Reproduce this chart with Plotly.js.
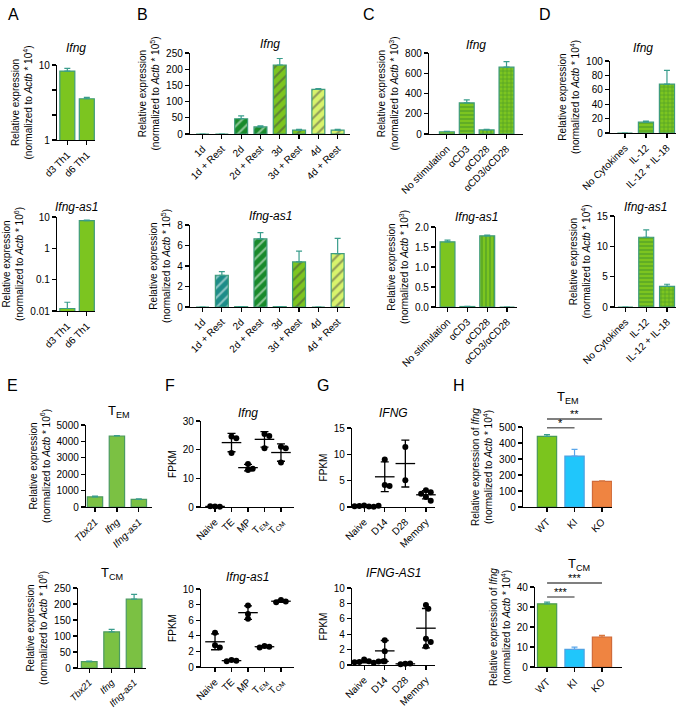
<!DOCTYPE html>
<html><head><meta charset="utf-8">
<script src="https://cdn.plot.ly/plotly-3.0.1.min.js"></script>
<style>html,body{margin:0;padding:0;background:#fff}#chart{width:688px;height:709px}</style>
</head><body><div id="chart"></div>
<script>
// ---------------- DATA ----------------
const aCats = ['d3 Th1', 'd6 Th1'];
const aIfng = [8.3, 3.55];
const aIfngErr = [0.7, 0.15];
const aAs1 = [0.012, 7.7];
const aAs1Err = [0.007, 0.2];

const bCats = ['1d', '1d + Rest', '2d', '2d + Rest', '3d', '3d + Rest', '4d', '4d + Rest'];
const bIfng = [0, 0, 47, 22, 213, 12, 138, 12];
const bIfngErr = [0, 0, 9, 3, 20, 2, 2, 2];
const bAs1 = [0, 3.1, 0.03, 6.65, 0.03, 4.4, 0, 5.2];
const bAs1Err = [0, 0.35, 0, 0.6, 0, 1.05, 0, 1.5];

const cCats = ['No stimulation', '\u03b1CD3', '\u03b1CD28', '\u03b1CD3/\u03b1CD28'];
const cIfng = [22, 308, 40, 660];
const cIfngErr = [5, 30, 6, 55];
const cAs1 = [1.63, 0.012, 1.78, 0];
const cAs1Err = [0.04, 0.005, 0.015, 0];

const dCats = ['No Cytokines', 'IL-12', 'IL-12 + IL-18'];
const dIfng = [0, 15, 68];
const dIfngErr = [0, 1.5, 19];
const dAs1 = [0, 11.5, 3.4];
const dAs1Err = [0, 1.2, 0.35];

const eCats = ['Tbx21', 'Ifng', 'Ifng-as1'];
const eTem = [620, 4330, 460];
const eTemErr = [40, 30, 30];
const eTcm = [20, 113, 215];
const eTcmErr = [1.5, 8, 15];

const fCats = ['Naive', 'TE', 'MP', 'T<sub>EM</sub>', 'T<sub>CM</sub>'];
const fIfng = [[0.2, 0.1, 0.3], [24.6, 24.0, 18.8], [15.0, 12.9, 13.3], [25.5, 24.8, 20.5], [21.0, 20.5, 15.5]];
const fAs1 = [[4.4, 2.8, 2.5], [0.9, 0.8, 0.75], [7.9, 6.8, 6.2], [2.7, 2.6, 2.5], [8.6, 8.4, 8.3]];

const gCats = ['Naive', 'D14', 'D28', 'Memory'];
const gIfng = [[0.3, 0.1, 0.2, 0.05, 0.15, 0.25], [9.0, 4.2, 4.0], [11.4, 5.1], [3.2, 2.8, 2.5, 1.9, 1.2]];
const gAs1 = [[0.7, 0.5, 0.4, 0.3, 0.35, 0.45, 0.25, 0.5], [3.2, 1.8, 0.5], [0.15, 0.2, 0.1], [7.8, 7.3, 3.4, 3.0, 2.4]];

const hCats = ['WT', 'KI', 'KO'];
const hTem = [442, 318, 160];
const hTemErr = [10, 42, 3];
const hTcm = [31.6, 8.8, 15];
const hTcmErr = [0.8, 1.1, 0.8];

// ---------------- STYLE / LAYOUT ----------------
const FONT = 'Liberation Sans, Arial, Helvetica, sans-serif';
const W = 688, H = 709;
const data = [];
const layout = {
  width: W, height: H, margin: {l: 0, r: 0, t: 0, b: 0},
  showlegend: false, barmode: 'overlay',
  paper_bgcolor: '#ffffff', plot_bgcolor: 'rgba(0,0,0,0)',
  font: {family: FONT, size: 10, color: '#000'},
  annotations: [], shapes: []
};
const axId = i => (i === 1 ? '' : String(i));

function setupAxes(i, rect, xopt, yopt) {
  const [x0, x1, yt, yb] = rect;
  const base = {showline: true, linecolor: '#000', linewidth: 1.2, ticks: 'outside', ticklen: 4,
    tickwidth: 1.2, tickcolor: '#000', showgrid: false, zeroline: false,
    tickfont: {family: FONT, size: 10, color: '#000'}, fixedrange: true};
  layout['xaxis' + axId(i)] = Object.assign({}, base, {domain: [x0 / W, x1 / W], anchor: 'y' + axId(i), tickangle: -45}, xopt);
  layout['yaxis' + axId(i)] = Object.assign({}, base, {domain: [1 - yb / H, 1 - yt / H], anchor: 'x' + axId(i)}, yopt);
}
function ytitle(text) { return {text: text, font: {family: FONT, size: 10}, standoff: 4}; }
const relTitle = p => 'Relative expression<br>(normalized to <i>Actb</i> * 10<sup>' + p + '</sup>)';

function ptitle(i, text, cy, size) {
  layout.annotations.push({xref: 'x' + axId(i) + ' domain', yref: 'paper', x: 0.5, y: 1 - cy / H,
    xanchor: 'center', yanchor: 'middle', showarrow: false, text: text,
    font: {family: FONT, size: size || 12, color: '#000'}});
}
function letter(t, cx, cy) {
  layout.annotations.push({xref: 'paper', yref: 'paper', x: cx / W, y: 1 - cy / H, xanchor: 'center', yanchor: 'middle',
    showarrow: false, text: t, font: {family: FONT, size: 16, color: '#000'}});
}

function bars(i, cats, vals, errs, st) {
  data.push({type: 'bar', x: cats, y: vals, xaxis: 'x' + axId(i), yaxis: 'y' + axId(i), width: st.width,
    marker: {color: st.colors, line: {color: st.line, width: 1.2}, pattern: st.pattern},
    error_y: {type: 'data', symmetric: false, array: errs.map(e => (e > 0 ? e : null)), arrayminus: errs.map(() => 0),
      color: st.err, thickness: 1.2, width: 3},
    hoverinfo: 'skip'});
}

function dots(i, groups, rect, xr, yr) {
  const [x0, x1, yt, yb] = rect;
  const pxCat = (x1 - x0) / (xr[1] - xr[0]);
  const pxY = (yb - yt) / (yr[1] - yr[0]);
  const d = 6;
  const px = [], py = [];
  groups.forEach((vals, g) => {
    const placed = [];
    vals.forEach(v => {
      const yy = v * pxY;
      const cands = [0];
      for (let s = 1; s < 14; s++) { cands.push(s * d * 0.4, -s * d * 0.4); }
      let off = 0;
      for (const c of cands) {
        if (placed.every(p => Math.hypot(p[0] - c, p[1] - yy) >= d * 0.75)) { off = c; break; }
      }
      placed.push([off, yy]);
      px.push(g + off / pxCat); py.push(v);
    });
  });
  data.push({type: 'scatter', mode: 'markers', x: px, y: py, xaxis: 'x' + axId(i), yaxis: 'y' + axId(i),
    marker: {size: d, color: '#000'}, cliponaxis: false, hoverinfo: 'skip'});
  const means = groups.map(v => v.reduce((a, b) => a + b, 0) / v.length);
  const sds = groups.map((v, k) => Math.sqrt(v.reduce((a, b) => a + (b - means[k]) ** 2, 0) / (v.length - 1)));
  data.push({type: 'scatter', mode: 'markers', x: groups.map((_, g) => g), y: means, xaxis: 'x' + axId(i), yaxis: 'y' + axId(i),
    marker: {symbol: 'line-ew-open', size: 14, color: '#000', line: {width: 1.3, color: '#000'}},
    error_y: {type: 'data', array: sds, thickness: 1.3, width: 4, color: '#000'}, cliponaxis: false, hoverinfo: 'skip'});
}

function sig(i, a, b, yd, label, xr) {
  const fx = k => (k - xr[0]) / (xr[1] - xr[0]);
  layout.shapes.push({type: 'line', xref: 'x' + axId(i) + ' domain', yref: 'y' + axId(i) + ' domain',
    x0: fx(a), x1: fx(b), y0: yd, y1: yd, line: {color: '#555', width: 1.3}});
  layout.annotations.push({xref: 'x' + axId(i) + ' domain', yref: 'y' + axId(i) + ' domain', x: (fx(a) + fx(b)) / 2, y: yd,
    xanchor: 'center', yanchor: 'bottom', yshift: -3, showarrow: false, text: label, font: {family: FONT, size: 11, color: '#000'}});
}

// colours
const LIME = '#7cc520', EDGE = '#3f9c7c', ERR = '#3a9d8c';
const TEAL = '#1d8c88', DKGRN = '#188a2a', PALE = '#d8f36c', HATCH = '#7a7a84', STRIPE = '#2c7f2c';

// rects [x0,x1,yTop,yBottom] in px
const R = {
  A1: [57, 95, 65, 140], A2: [57, 95, 217, 311],
  B1: [190, 350, 53, 134], B2: [190, 350, 225, 307],
  C1: [429, 523, 53, 134], C2: [436, 517, 227, 307],
  D1: [610, 676, 61, 133], D2: [615, 676, 216, 307],
  E1: [86, 152, 425, 507], E2: [78, 146, 588, 668],
  F1: [201, 294, 421, 507], F2: [201, 294, 589, 667],
  G1: [352, 435, 428, 507], G2: [352, 435, 588, 665],
  H1: [523, 612, 427, 507], H2: [535, 622, 587, 667]
};

// ---- A ----
setupAxes(1, R.A1, {type: 'category', range: [-0.53, 1.42]},
  {type: 'log', range: [0, 1], tickvals: [1, 2.154, 4.642, 10], ticktext: ['1', ' ', ' ', '10'], title: ytitle(relTitle(4))});
bars(1, aCats, aIfng, aIfngErr, {width: 0.77, colors: LIME, line: EDGE, err: ERR});
ptitle(1, '<i>Ifng</i>', 48);
setupAxes(2, R.A2, {type: 'category', range: [-0.53, 1.42]},
  {type: 'log', range: [-2, 1], tickvals: [0.01, 0.1, 1, 10], ticktext: ['0.01', '0.1', '1', '10'], title: ytitle(relTitle(6))});
bars(2, aCats, aAs1, aAs1Err, {width: 0.77, colors: LIME, line: EDGE, err: ERR});
ptitle(2, '<i>Ifng-as1</i>', 207);

// ---- B ----
const bFill = [TEAL, TEAL, DKGRN, DKGRN, LIME, LIME, PALE, PALE];
const bPat = {shape: '/', fillmode: 'overlay', fgcolor: HATCH, size: 7, solidity: 0.3};
setupAxes(3, R.B1, {type: 'category', range: [-0.65, 7.64]},
  {range: [0, 250], dtick: 50, title: ytitle(relTitle(5))});
bars(3, bCats, bIfng, bIfngErr, {width: 0.67, colors: bFill, line: EDGE, err: ERR, pattern: bPat});
ptitle(3, '<i>Ifng</i>', 44);
setupAxes(4, R.B2, {type: 'category', range: [-0.65, 7.64]},
  {range: [0, 8], dtick: 2, title: ytitle(relTitle(5))});
bars(4, bCats, bAs1, bAs1Err, {width: 0.67, colors: bFill, line: EDGE, err: ERR, pattern: bPat});
ptitle(4, '<i>Ifng-as1</i>', 216);

// ---- C ----
const cPat = {shape: ['', '-', '|', '+'], fillmode: 'overlay', fgcolor: STRIPE, size: 4, solidity: 0.35};
setupAxes(5, R.C1, {type: 'category', range: [-0.9, 3.83]},
  {range: [0, 800], dtick: 200, title: ytitle(relTitle(3))});
bars(5, cCats, cIfng, cIfngErr, {width: 0.75, colors: LIME, line: EDGE, err: ERR, pattern: cPat});
ptitle(5, '<i>Ifng</i>', 45);
setupAxes(6, R.C2, {type: 'category', range: [-0.58, 3.5]},
  {range: [0, 2], dtick: 0.5, tickformat: '.1f', title: ytitle(relTitle(3))});
bars(6, cCats, cAs1, cAs1Err, {width: 0.75, colors: LIME, line: EDGE, err: ERR, pattern: cPat});
ptitle(6, '<i>Ifng-as1</i>', 217);

// ---- D ----
const dPat = {shape: ['', '-', '+'], fillmode: 'overlay', fgcolor: STRIPE, size: 4, solidity: 0.35};
setupAxes(7, R.D1, {type: 'category', range: [-0.71, 2.43]},
  {range: [0, 100], dtick: 20, title: ytitle(relTitle(4))});
bars(7, dCats, dIfng, dIfngErr, {width: 0.72, colors: LIME, line: EDGE, err: ERR, pattern: dPat});
ptitle(7, '<i>Ifng</i>', 48);
setupAxes(8, R.D2, {type: 'category', range: [-0.5, 2.43]},
  {range: [0, 15], dtick: 5, title: ytitle(relTitle(4))});
bars(8, dCats, dAs1, dAs1Err, {width: 0.72, colors: LIME, line: EDGE, err: ERR, pattern: dPat});
ptitle(8, '<i>Ifng-as1</i>', 207);

// ---- E ----
const EF = '#7bc143', EE = '#4c9a62';
setupAxes(9, R.E1, {type: 'category', range: [-0.41, 2.6], tickvals: eCats, ticktext: eCats.map(c => '<i>' + c + '</i>')},
  {range: [0, 5000], dtick: 1000, title: ytitle(relTitle(6))});
bars(9, eCats, eTem, eTemErr, {width: 0.7, colors: EF, line: EE, err: ERR});
ptitle(9, 'T<sub>EM</sub>', 411, 13);
setupAxes(10, R.E2, {type: 'category', range: [-0.5, 2.53], tickvals: eCats, ticktext: eCats.map(c => '<i>' + c + '</i>'), tickfont: {family: FONT, size: 9.5, color: '#000'}},
  {range: [0, 250], dtick: 50, title: ytitle(relTitle(6))});
bars(10, eCats, eTcm, eTcmErr, {width: 0.7, colors: EF, line: EE, err: ERR});
ptitle(10, 'T<sub>CM</sub>', 573, 13);

// ---- F ----
const fxr = [-0.85, 4.79];
setupAxes(11, R.F1, {range: fxr, tickvals: fCats.map((_, k) => k), ticktext: fCats},
  {range: [0, 30], dtick: 10, title: ytitle('FPKM')});
dots(11, fIfng, R.F1, fxr, [0, 30]);
ptitle(11, '<i>Ifng</i>', 413);
setupAxes(12, R.F2, {range: fxr, tickvals: fCats.map((_, k) => k), ticktext: fCats},
  {range: [0, 10], dtick: 2, title: ytitle('FPKM')});
dots(12, fAs1, R.F2, fxr, [0, 10]);
ptitle(12, '<i>Ifng-as1</i>', 577);

// ---- G ----
const gxr = [-0.59, 3.44];
setupAxes(13, R.G1, {range: gxr, tickvals: gCats.map((_, k) => k), ticktext: gCats},
  {range: [0, 15], dtick: 5, title: ytitle('FPKM')});
dots(13, gIfng, R.G1, gxr, [0, 15]);
ptitle(13, '<i>IFNG</i>', 413);
setupAxes(14, R.G2, {range: gxr, tickvals: gCats.map((_, k) => k), ticktext: gCats},
  {range: [0, 10], dtick: 2, title: ytitle('FPKM')});
dots(14, gAs1, R.G2, gxr, [0, 10]);
ptitle(14, '<i>IFNG-AS1</i>', 573);

// ---- H ----
const hFill = ['#7bc51e', '#20c6fb', '#ef8441'];
const hEdge = ['#4a9a55', '#4fa2e2', '#d06b3a'];
const hErr = ['#3a9d8c', '#5aa6ea', '#d9773f'];
const hxr1 = [-0.87, 2.36], hxr2 = [-0.44, 2.73];
const hTitle = 'Relative expression of <i>Ifng</i><br>(normalized to <i>Actb</i> * 10<sup>4</sup>)';
setupAxes(15, R.H1, {type: 'category', range: hxr1, categoryorder: 'array', categoryarray: hCats},
  {range: [0, 500], dtick: 100, title: ytitle(hTitle)});
setupAxes(16, R.H2, {type: 'category', range: hxr2, categoryorder: 'array', categoryarray: hCats},
  {range: [0, 40], dtick: 10, title: ytitle(hTitle)});
hCats.forEach((c, k) => {
  bars(15, [c], [hTem[k]], [hTemErr[k]], {width: 0.7, colors: hFill[k], line: hEdge[k], err: hErr[k]});
  bars(16, [c], [hTcm[k]], [hTcmErr[k]], {width: 0.7, colors: hFill[k], line: hEdge[k], err: hErr[k]});
});
ptitle(15, 'T<sub>EM</sub>', 397, 13);
ptitle(16, 'T<sub>CM</sub>', 564, 13);
sig(15, 0, 2, 1.1, '**', hxr1);
sig(15, 0, 1, 0.99, '*', hxr1);
sig(16, 0, 2, 1.05, '***', hxr2);
sig(16, 0, 1, 0.875, '***', hxr2);

// panel letters
letter('A', 13, 15); letter('B', 142, 15); letter('C', 369, 15); letter('D', 545, 15);
letter('E', 12, 385); letter('F', 170, 385); letter('G', 323, 385); letter('H', 459, 385);

Plotly.newPlot('chart', data, layout, {staticPlot: true, displayModeBar: false});
</script>
</body></html>
